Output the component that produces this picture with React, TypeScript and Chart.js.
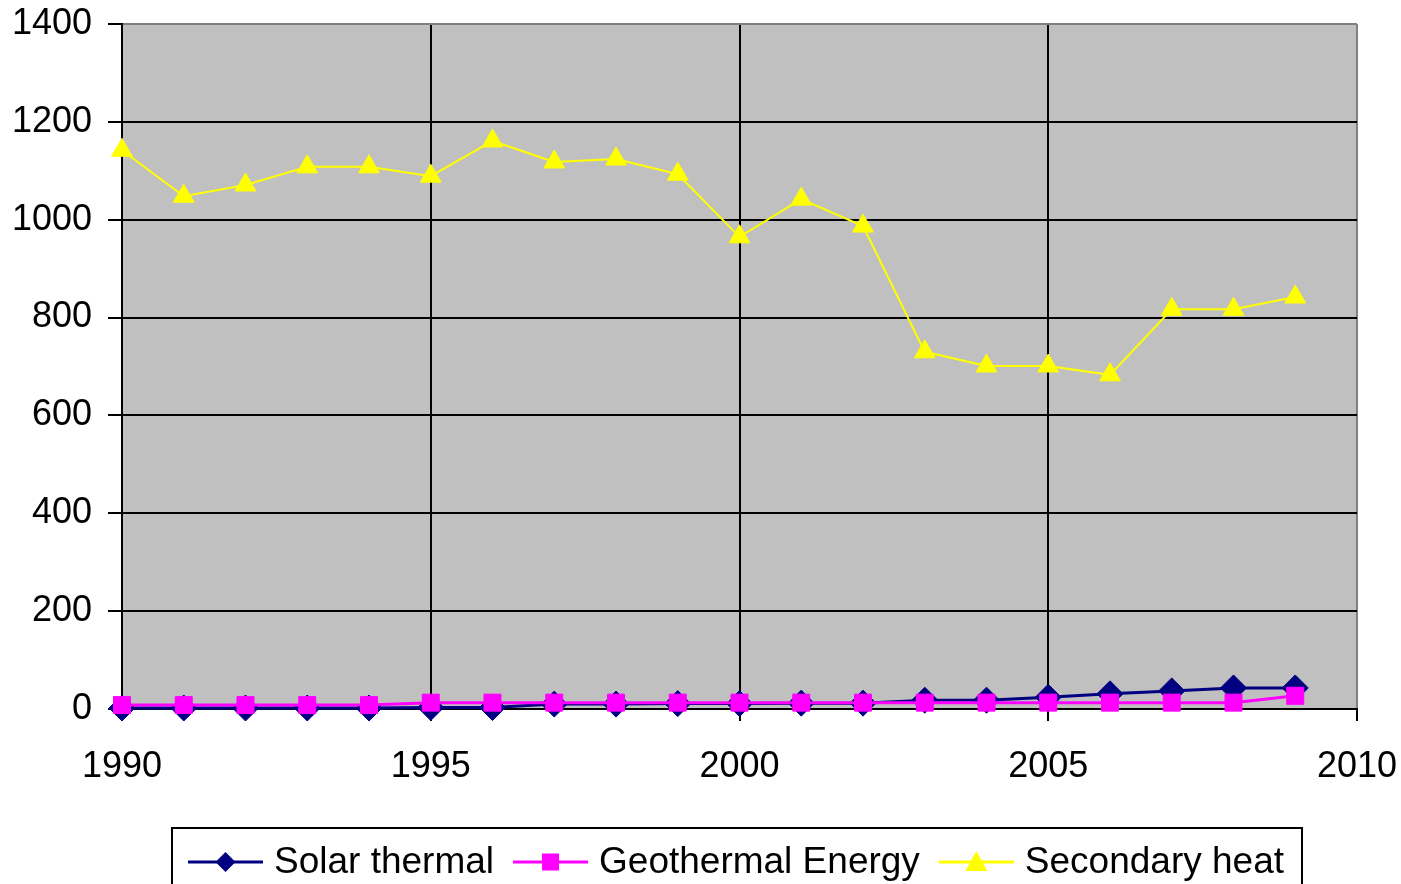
import React, { useEffect, useRef } from "react";
import { Chart, registerables } from "chart.js";

Chart.register(...registerables);

const years = [1990, 1991, 1992, 1993, 1994, 1995, 1996, 1997, 1998, 1999, 2000, 2001, 2002, 2003, 2004, 2005, 2006, 2007, 2008, 2009];
const solarThermal = [2, 2, 2, 2, 2, 3, 3, 10, 10, 11, 11, 12, 12, 18, 18, 24, 31, 37, 43, 43];
const geothermal = [8, 8, 8, 8, 8, 13, 13, 13, 13, 13, 13, 13, 13, 13, 13, 13, 13, 13, 13, 27];
const secondaryHeat = [1142, 1048, 1071, 1108, 1108, 1089, 1161, 1118, 1124, 1093, 965, 1042, 987, 730, 701, 701, 683, 817, 817, 842];
const seriesNames = ["Solar thermal", "Geothermal Energy", "Secondary heat"];
const seriesColors = ["#000080", "#FF00FF", "#FFFF00"];
const seriesMarkers = ["rectRot", "rect", "triangle"];

const FONT = "'Liberation Sans', Arial, sans-serif";

const bgPlugin = {
  id: "plotBg",
  beforeDraw(chart: any) {
    const { ctx, chartArea } = chart;
    ctx.save();
    ctx.fillStyle = "#C0C0C0";
    ctx.fillRect(chartArea.left, chartArea.top, chartArea.right - chartArea.left, chartArea.bottom - chartArea.top);
    ctx.restore();
  },
};

const legendPlugin = {
  id: "boxLegend",
  afterDraw(chart: any) {
    const { ctx } = chart;
    ctx.save();
    ctx.font = `37px ${FONT}`;
    const lineLen = 75;
    const textGap = 11;
    const itemGap = 19;
    const pad = 16;
    const widths = seriesNames.map((n) => ctx.measureText(n).width);
    const content = widths.reduce((a, w) => a + lineLen + textGap + w, 0) + itemGap * (seriesNames.length - 1);
    const boxW = Math.max(content + pad * 2, 1130);
    const boxL = 172;
    const boxT = 828;
    const cy = 862;
    ctx.fillStyle = "#FFFFFF";
    ctx.fillRect(boxL, boxT, boxW, 100);
    ctx.strokeStyle = "#000000";
    ctx.lineWidth = 2;
    ctx.strokeRect(boxL, boxT, boxW, 100);
    let x = boxL + pad;
    seriesNames.forEach((name, i) => {
      ctx.strokeStyle = seriesColors[i];
      ctx.lineWidth = 3;
      ctx.beginPath();
      ctx.moveTo(x, cy);
      ctx.lineTo(x + lineLen, cy);
      ctx.stroke();
      ctx.fillStyle = seriesColors[i];
      const mx = x + lineLen / 2;
      ctx.beginPath();
      if (seriesMarkers[i] === "rectRot") {
        ctx.moveTo(mx, cy - 10); ctx.lineTo(mx + 10, cy); ctx.lineTo(mx, cy + 10); ctx.lineTo(mx - 10, cy);
      } else if (seriesMarkers[i] === "rect") {
        ctx.rect(mx - 8.5, cy - 8.5, 17, 17);
      } else {
        ctx.moveTo(mx, cy - 11); ctx.lineTo(mx + 11, cy + 9); ctx.lineTo(mx - 11, cy + 9);
      }
      ctx.closePath();
      ctx.fill();
      ctx.fillStyle = "#000000";
      ctx.textBaseline = "middle";
      ctx.textAlign = "left";
      ctx.fillText(name, x + lineLen + textGap, cy + 1);
      x += lineLen + textGap + widths[i] + itemGap;
    });
    ctx.restore();
  },
};

export default function App() {
  const ref = useRef<HTMLCanvasElement>(null);
  useEffect(() => {
    document.body.style.margin = "0";
    const dataSets = [solarThermal, geothermal, secondaryHeat];
    const chart = new Chart(ref.current as HTMLCanvasElement, {
      type: "line",
      data: {
        datasets: dataSets.map((vals, i) => ({
          label: seriesNames[i],
          data: vals.map((v, j) => ({ x: years[j], y: v })),
          borderColor: seriesColors[i],
          backgroundColor: seriesColors[i],
          borderWidth: i === 2 ? 2 : 3,
          pointStyle: seriesMarkers[i] as any,
          pointRadius: i === 0 ? 13 : i === 1 ? 12 : 12,
          pointBorderWidth: 1,
          pointBorderColor: seriesColors[i],
          tension: 0,
          order: 3 - i,
          clip: false as any,
        })),
      },
      options: {
        animation: false,
        responsive: false,
        maintainAspectRatio: false,
        layout: { padding: { top: 24, right: 44, left: 0, bottom: 0 } },
        plugins: { legend: { display: false }, tooltip: { enabled: false } },
        scales: {
          x: {
            type: "linear",
            min: 1990,
            max: 2010,
            ticks: { stepSize: 5, color: "#000", font: { family: FONT, size: 36 }, padding: 24, maxRotation: 0, callback: (v: any) => String(v) },
            grid: {
              color: (c: any) => (c.tick && c.tick.value === 2010 ? "#808080" : "#000000"),
              lineWidth: 2,
              tickLength: 12,
              tickColor: "#000000",
            },
            border: { color: "#000000", width: 2 },
            afterFit: (s: any) => { s.height = 175; s.paddingLeft = 0; s.paddingRight = 0; },
          },
          y: {
            min: 0,
            max: 1400,
            ticks: { stepSize: 200, color: "#000", font: { family: FONT, size: 36 }, padding: 16, callback: (v: any) => String(v) },
            grid: {
              color: (c: any) => (c.tick && c.tick.value === 1400 ? "#808080" : "#000000"),
              lineWidth: 2,
              tickLength: 14,
              tickColor: "#000000",
            },
            border: { color: "#000000", width: 2 },
            afterFit: (s: any) => { s.width = 122; s.paddingTop = 0; s.paddingBottom = 0; },
          },
        },
      },
      plugins: [bgPlugin, legendPlugin],
    });
    return () => chart.destroy();
  }, []);
  return (
    <div style={{ position: "absolute", left: 0, top: 0, width: 1401, height: 884, background: "#fff" }}>
      <canvas ref={ref} width={1401} height={884} style={{ width: 1401, height: 884 }} />
    </div>
  );
}
